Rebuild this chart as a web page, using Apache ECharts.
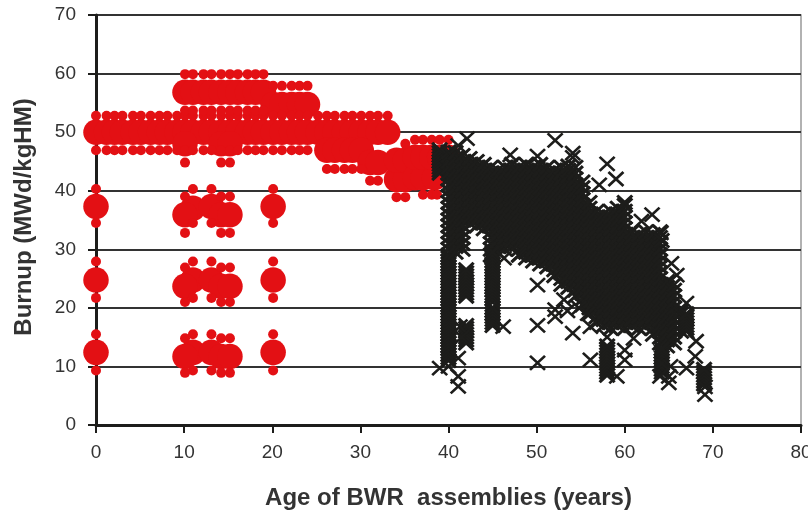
<!DOCTYPE html>
<html><head><meta charset="utf-8">
<script src="https://cdn.jsdelivr.net/npm/echarts@6/dist/echarts.min.js"></script>
<style>html,body{margin:0;padding:0;background:#fff}#c{width:808px;height:513px}</style></head>
<body><div id="c"></div>
<script>
const xTicksMax = 80, yTicksMax = 70;
const xTitle = 'Age of BWR  assemblies (years)';
const yTitle = 'Burnup (MWd/kgHM)';

// Red population: large and small circles, [age, burnup]
const redAgesMain = [0,1.2,2.1,3,4.2,5.1,6.2,7.2,8.1,9.2,10.1,11,12.2,13.1,14.2,15.2,16.1,17.2,18.1,19,20.1,21.1,22.2,23.1,24,25.2,26.2,27.1,28.2,29.1,30.1,31.1,32,33.1];
const redAgesUpper = [10.1,11,12.2,13.1,14.2,15.2,16.1,17.2,18.1,19];
const redAgesStep = [20.1,21.1,22.2,23.1,24];
const redBig = [
 [10.1,48],[14.2,48],[15.2,48],
 [26.2,46.9],[27.1,46.9],[28.2,46.9],[29.1,46.9],[30.1,46.9],
 [31.1,44.8],[32,44.8],[34.1,41.9],[35.1,41.9],[34.1,45.2],[35.1,45.2],
 [36.2,42.2],[37.1,42.2],[38.4,42.2],[36.2,45.7],[37.1,45.7],[38.1,45.7],[39,45.7],[40,45.7],
 [0,37.3],[20.1,37.3],[11,37],[13.1,37.3],[10.1,35.9],[14.2,35.9],[15.2,35.9],
 [0,24.75],[20.1,24.75],[11,24.75],[13.1,24.75],[10.1,23.7],[14.2,23.7],[15.2,23.7],
 [0,12.4],[20.1,12.4],[11,12.4],[13.1,12.4],[10.1,11.7],[14.2,11.7],[15.2,11.7]
];
const redSmall = [
 [10.1,44.8],[14.2,44.8],[15.2,44.8],
 [26.2,43.7],[27.1,43.7],[28.2,43.7],[29.1,43.7],[30.1,43.7],
 [31.1,41.7],[32,41.7],[34.1,38.9],[35.1,38.9],[35.1,48],
 [37.1,39.3],[38.1,39.3],[38.7,39.3],[36.2,48.7],[37.1,48.7],[38.1,48.7],[39,48.7],[40,48.7],
 [0,40.3],[0,34.5],[20.1,40.3],[20.1,34.5],[11,40.3],[11,34.5],[13.1,40.3],[13.1,34.5],
 [10.1,39],[10.1,32.8],[14.2,39],[14.2,32.8],[15.2,39],[15.2,32.8],
 [0,27.9],[0,21.7],[20.1,27.9],[20.1,21.7],[11,27.9],[11,21.7],[13.1,27.9],[13.1,21.7],
 [10.1,26.9],[10.1,21],[14.2,26.9],[14.2,21],[15.2,26.9],[15.2,21],
 [0,15.5],[0,9.3],[20.1,15.5],[20.1,9.3],[11,15.5],[11,9.3],[13.1,15.5],[13.1,9.3],
 [10.1,14.8],[10.1,8.9],[14.2,14.8],[14.2,8.9],[15.2,14.8],[15.2,8.9]
];

// Black population, read column by column
const blackAges = [39,40,40.8,41.6,42.4,43.2,44,44.8,45.6,46.4,47.2,48,48.8,49.6,50.4,51.2,52,52.8,53.6,54.4,55.2,56,56.8,57.6,58.4,59.2,60,60.8,61.6,62.4,63.2,64,64.8,65.6,66.4,67];
const blackBurnups = [
 [43,43.5,44,44.5,45,45.5,46,46.5,47],
 [11,11.5,12,12.5,13,13.5,14,14.5,15,15.5,16,16.5,17,17.5,18,18.5,19,19.5,20,20.5,21,21.5,22,22.5,23,23.5,24,24.5,25,25.5,26,26.5,27,27.5,28,28.5,29,30,31,32,33,34,35,36,37,38,39,40,41,42,43,44,45,46,46.6],
 [29.5,30.5,31.5,32.5,33.5,34.5,35.5,36.5,37.5,38.5,39.5,40.5,41.5,42.5,43.5,44.5,45.5,46.5],
 [30,31,32,33,34,35,36,37,38,39,40,41,42,43,44,45,46],
 [34.5,35.5,36.5,37.5,38.5,39.5,40.5,41.5,42.5,43.5,44.5,45.5],
 [34,35,36,37,38,39,40,41,42,43,44,45],
 [33.5,34.5,35.5,36.5,37.5,38.5,39.5,40.5,41.5,42.5,43.5,44.5],
 [29,30,31,32,33,34,35,36,37,38,39,40,41,42,43,44],
 [29.5,30.5,31.5,32.5,33.5,34.5,35.5,36.5,37.5,38.5,39.5,40.5,41.5,42.5,43.5],
 [30,31,32,33,34,35,36,37,38,39,40,41,42,43,44],
 [30.5,31.5,32.5,33.5,34.5,35.5,36.5,37.5,38.5,39.5,40.5,41.5,42.5,43.5,44.5],
 [29,30,31,32,33,34,35,36,37,38,39,40,41,42,43,44],
 [28.5,29.5,30.5,31.5,32.5,33.5,34.5,35.5,36.5,37.5,38.5,39.5,40.5,41.5,42.5,43.5,44.5],
 [28,29,30,31,32,33,34,35,36,37,38,39,40,41,42,43,44],
 [27.5,28.5,29.5,30.5,31.5,32.5,33.5,34.5,35.5,36.5,37.5,38.5,39.5,40.5,41.5,42.5,43.5,44.5],
 [27,28,29,30,31,32,33,34,35,36,37,38,39,40,41,42,43,44],
 [25.5,26.5,27.5,28.5,29.5,30.5,31.5,32.5,33.5,34.5,35.5,36.5,37.5,38.5,39.5,40.5,41.5,42.5,43.5],
 [24,25,26,27,28,29,30,31,32,33,34,35,36,37,38,39,40,41,42,43,44],
 [23.5,24.5,25.5,26.5,27.5,28.5,29.5,30.5,31.5,32.5,33.5,34.5,35.5,36.5,37.5,38.5,39.5,40.5,41.5,42.5,43.5,44.2],
 [22,23,24,25,26,27,28,29,30,31,32,33,34,35,36,37,38,39,40,41,42,43,44],
 [20.5,21.5,22.5,23.5,24.5,25.5,26.5,27.5,28.5,29.5,30.5,31.5,32.5,33.5,34.5,35.5,36.5,37.5,38.5,39.5,40.5,41.5],
 [19,20,21,22,23,24,25,26,27,28,29,30,31,32,33,34,35,36,37,38],
 [17.5,18.5,19.5,20.5,21.5,22.5,23.5,24.5,25.5,26.5,27.5,28.5,29.5,30.5,31.5,32.5,33.5,34.5,35.5,36.5],
 [17,18,19,20,21,22,23,24,25,26,27,28,29,30,31,32,33,34,35,36],
 [16.5,17.5,18.5,19.5,20.5,21.5,22.5,23.5,24.5,25.5,26.5,27.5,28.5,29.5,30.5,31.5,32.5,33.5,34.5,35.5,36.5],
 [17,18,19,20,21,22,23,24,25,26,27,28,29,30,31,32,33,34,35,36,37],
 [16.5,17.5,18.5,19.5,20.5,21.5,22.5,23.5,24.5,25.5,26.5,27.5,28.5,29.5,30.5,31.5,32.5,33.5,34.5,35.5,36.5,37.5,38],
 [17,18,19,20,21,22,23,24,25,26,27,28,29,30,31,32,33],
 [16.5,17.5,18.5,19.5,20.5,21.5,22.5,23.5,24.5,25.5,26.5,27.5,28.5,29.5,30.5,31.5,32.5],
 [17,18,19,20,21,22,23,24,25,26,27,28,29,30,31,32,33],
 [15.5,16.5,17.5,18.5,19.5,20.5,21.5,22.5,23.5,24.5,25.5,26.5,27.5,28.5,29.5,30.5,31.5,32.5],
 [14,15,16,17,18,19,20,21,22,23,24,25,26,27,28,29,30,31,32,33],
 [13.5,14.5,15.5,16.5,17.5,18.5,19.5,20.5,21.5,22.5,23.5,24.5],
 [14,15,16,17,18,19,20,21,22,23,24],
 [16,17,18,19,19.5],
 [16,16.5,17,17.5,18,18.5,19]
];
// Narrow isolated stacks
const stackAges = [42,42,45,58,64.2,69];
const stackBurnups = [
 [22,22.5,23,23.5,24,24.5,25,25.5,26,26.5],
 [14,14.5,15,15.5,16,16.5,17],
 [17,17.5,18,18.5,19,19.5,20,21,21.5,22,22.5,23,23.5,24,24.5,25,25.5,26,26.5,27,27.5,28,28.5,29,29.5],
 [8.5,9,9.5,10,10.5,11,11.5,12,12.5,13,13.5],
 [9,9.5,10,10.5,11,11.5,12,12.5,13],
 [7,7.5,8,8.5,9,9.5]
];
const blackOutliers = [
 [42.1,48.9],[41.1,47.7],[47,46.1],[52.1,48.6],[54.1,46.4],[54.1,45.7],[50.1,45.9],[58,44.6],[59,42],[57.1,41],
 [63.1,35.9],[61.9,34.8],[64.1,32.8],[64.2,31.5],[65.3,27.6],[65.9,25.6],[67,20.8],
 [50.1,23.9],[50.1,17],[50.1,10.6],[52.1,19.7],[52.1,18.5],[53.1,21.4],[54.1,15.7],[56.1,11.1],[56.1,16.8],[58,15],
 [46.2,16.8],[60,12.8],[60,11.1],[59.1,8.3],[61,14.8],[67,9.7],[68,11.7],[68.1,14.3],[69.1,5.2],[69.1,6.5],
 [39,9.7],[41.1,6.6],[41.1,8.3],[41.1,11.4],[40,10],[41.3,16.8],[41.5,15],[65,8.3],[65,7.2],[64,8.3],[64.2,10.5],[65.2,10],
 [55.8,19],[54.8,20],[53.5,19.5],[48,29],[46.3,28.5]
];

const red = '#e31014', black = '#1d1d1b', ink = '#333';
const xMark = 'path://M0 0L10 10M10 0L0 10';
const big = redAgesMain.map(a => [a, 50])
  .concat(redAgesUpper.map(a => [a, 56.8]), redAgesStep.map(a => [a, 54.7]), redBig);
const small = redAgesMain.map(a => [a, 52.8])
  .concat(redAgesMain.filter(a => a <= 24).map(a => [a, 46.9]),
          redAgesUpper.map(a => [a, 59.9]), redAgesUpper.map(a => [a, 53.7]),
          redAgesStep.map(a => [a, 57.9]), redSmall);
const crosses = [];
blackAges.forEach((a, i) => blackBurnups[i].forEach(y => crosses.push([a, y])));
stackAges.forEach((a, i) => stackBurnups[i].forEach(y => crosses.push([a, y])));

const chart = echarts.init(document.getElementById('c'), null, {renderer: 'canvas'});
const labelFont = {fontFamily: 'Liberation Sans', fontSize: 19, color: ink};
const nameFont = {fontFamily: 'Liberation Sans', fontSize: 24, fontWeight: 'bold', color: ink};
chart.setOption({
  animation: false,
  backgroundColor: '#fff',
  grid: {left: 96, right: 7, top: 15, bottom: 88, show: true, outerBoundsMode: 'none', borderColor: '#999', borderWidth: 1.5, backgroundColor: 'transparent'},
  xAxis: {type: 'value', min: 0, max: xTicksMax, interval: 10,
    name: xTitle, nameLocation: 'middle', nameGap: 61, nameTextStyle: nameFont,
    axisLine: {onZero: false, lineStyle: {color: black, width: 3}},
    axisTick: {show: true, length: 8, lineStyle: {color: black, width: 2}},
    axisLabel: Object.assign({margin: 18}, labelFont), splitLine: {show: false}},
  yAxis: {type: 'value', min: 0, max: yTicksMax, interval: 10,
    name: yTitle, nameLocation: 'middle', nameGap: 60, nameTextStyle: Object.assign({padding: [0, 0, 0, 6]}, nameFont),
    axisLine: {onZero: false, lineStyle: {color: black, width: 3}},
    axisTick: {show: true, length: 8, lineStyle: {color: black, width: 2}},
    axisLabel: Object.assign({margin: 20}, labelFont),
    splitLine: {show: true, showMinLine: false, lineStyle: {color: ['#333','#333','#333','#333','#333','#333','#333','#999'], width: 2}}},
  series: [
    {type: 'scatter', clip: false, z: 2, data: big, symbol: 'circle', symbolSize: 25.5, itemStyle: {color: red, opacity: 1}, silent: true},
    {type: 'scatter', clip: false, z: 3, data: small, symbol: 'circle', symbolSize: 10, itemStyle: {color: red, opacity: 1}, silent: true},
    {type: 'scatter', clip: false, z: 4, data: crosses, symbol: xMark, symbolSize: [15, 14],
      itemStyle: {color: 'none', borderColor: black, borderWidth: 3, opacity: 1}, silent: true},
    {type: 'scatter', clip: false, z: 4, data: blackOutliers, symbol: xMark, symbolSize: [15, 14],
      itemStyle: {color: 'none', borderColor: black, borderWidth: 2.6, opacity: 1}, silent: true}
  ]
});
</script></body></html>
